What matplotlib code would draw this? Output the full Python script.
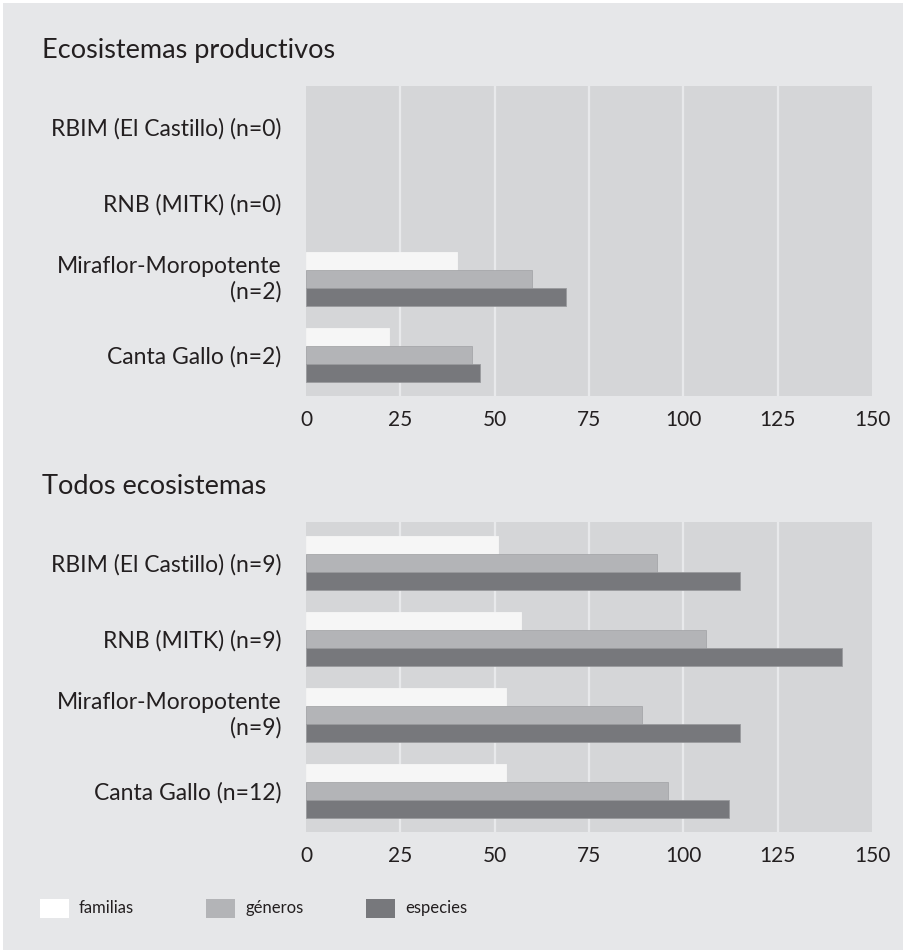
import numpy as np
import matplotlib.pyplot as plt
from matplotlib.patches import Rectangle

plt.rcParams['font.family'] = ['Lato', 'DejaVu Sans']

# data
sites = ['RBIM (El Castillo) (n={})', 'RNB (MITK) (n={})',
         'Miraflor-Moropotente\n(n={})', 'Canta Gallo (n={})']
series = ['familias', 'géneros', 'especies']

prod_n = [0, 0, 2, 2]
prod_familias = [0, 0, 40, 22]
prod_generos = [0, 0, 60, 44]
prod_especies = [0, 0, 69, 46]

all_n = [9, 9, 9, 12]
all_familias = [51, 57, 53, 53]
all_generos = [93, 106, 89, 96]
all_especies = [115, 142, 115, 112]

xticks = [0, 25, 50, 75, 100, 125, 150]

fig_bg = '#e6e7e9'
plot_bg = '#d5d6d8'
colors = ['#f6f6f6', '#b3b4b7', '#77787c']
edges = ['#f6f6f6', '#a6a7aa', '#9a9b9e']
txt = '#231f20'

fig = plt.figure(figsize=(9.05, 9.52), dpi=100, facecolor='white')
fig.patches.append(Rectangle((3 / 905, 2 / 952), 900 / 905, 947 / 952,
                             transform=fig.transFigure, facecolor=fig_bg,
                             edgecolor='none', zorder=-10))


def panel(bottom, title, n, fam, gen, esp):
    ax = fig.add_axes([306 / 905, bottom, 566 / 905, 310 / 952])
    ax.set_facecolor(plot_bg)
    y = np.arange(len(sites))
    h = 18 / 76
    for i, vals in enumerate([fam, gen, esp]):
        lw = [0.6 if v > 0 else 0 for v in vals]
        ax.barh(y + (i - 1) * h, vals, height=h, color=colors[i],
                edgecolor=edges[i], linewidth=lw, zorder=3)
    for g in xticks[1:-1]:
        ax.axvline(g, color='#e8e9eb', lw=1.6, zorder=1)
    ax.set_xlim(0, 150)
    ax.set_ylim(3 + 41 / 76, -41 / 76)
    ax.set_xticks(xticks)
    ax.set_xticklabels([str(t) for t in xticks], fontsize=15, color=txt)
    ax.set_yticks(y)
    labels = ax.set_yticklabels([s.format(k) for s, k in zip(sites, n)],
                                fontsize=16.5, color=txt, linespacing=1.25)
    for lab in labels:
        if '\n' in lab.get_text():
            lab.set_va('center')
    ax.tick_params(axis='x', length=0, pad=10)
    ax.tick_params(axis='y', length=0, pad=18)
    for s in ax.spines.values():
        s.set_visible(False)
    fig.text(42 / 905, bottom + 310 / 952 + 36 / 952, title, fontsize=19.5,
             color=txt, va='center', ha='left')
    return ax


panel(1 - 396 / 952, 'Ecosistemas productivos',
      prod_n, prod_familias, prod_generos, prod_especies)
panel(1 - 832 / 952, 'Todos ecosistemas',
      all_n, all_familias, all_generos, all_especies)

# legend
leg_x = [40, 206, 366]
for i, name in enumerate(series):
    fig.patches.append(Rectangle((leg_x[i] / 905, 1 - 918 / 952), 29 / 905, 19 / 952,
                                 transform=fig.transFigure,
                                 facecolor='white' if i == 0 else colors[i],
                                 edgecolor='none'))
    fig.text((leg_x[i] + 39) / 905, 1 - 908 / 952, name, fontsize=12,
             color=txt, va='center', ha='left')

plt.savefig('out.png', dpi=100, facecolor=fig.get_facecolor())
